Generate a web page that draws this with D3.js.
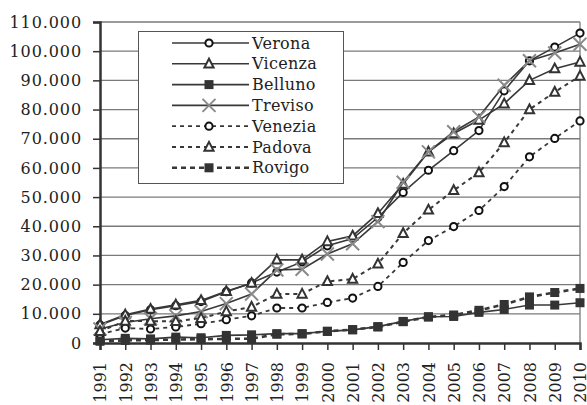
<!DOCTYPE html>
<html><head><meta charset="utf-8">
<script src="https://cdnjs.cloudflare.com/ajax/libs/d3/7.8.5/d3.min.js"></script>
<style>
html,body{margin:0;padding:0;background:#fff;}
svg{display:block;font-family:"DejaVu Serif",serif;}
</style></head>
<body><svg id="c" width="587" height="405"></svg>
<script>
const years = [1991,1992,1993,1994,1995,1996,1997,1998,1999,2000,2001,2002,2003,2004,2005,2006,2007,2008,2009,2010];
const seriesNames = ["Verona","Vicenza","Belluno","Treviso","Venezia","Padova","Rovigo"];
const verona  = [6200,9400,11400,12800,14200,17600,20600,24300,27800,33300,35800,43000,51600,59200,65900,72800,86400,96700,101400,106200];
const vicenza = [6300,9700,11600,13100,14600,17700,20500,28500,28500,34800,36700,44400,54500,65500,71800,76400,82000,90000,94000,96300];
const belluno = [1100,1600,1400,2000,1800,2600,2800,3200,3200,4000,4500,5600,7400,9000,9100,10500,11500,13000,13000,13800];
const treviso = [4800,7000,8300,9300,10800,13500,16800,25000,25300,30500,34000,41600,55100,65500,72400,77500,88300,96700,99400,102400];
const venezia = [3000,5100,4800,5500,6600,8000,9300,12000,12000,13900,15400,19400,27600,35100,39900,45400,53600,63800,70100,76100];
const padova  = [4000,7500,7500,7400,8500,10800,12300,16800,16800,21100,21900,27100,37600,45600,52300,58400,68700,80000,86000,91500];
const rovigo  = [600,900,1000,1200,1300,1400,1500,3000,3100,4000,4600,5500,7300,8900,9600,11200,13200,15800,17300,18700];
const yTicks = [0,10000,20000,30000,40000,50000,60000,70000,80000,90000,100000,110000];

const valuesByName = {Verona:verona,Vicenza:vicenza,Belluno:belluno,Treviso:treviso,Venezia:venezia,Padova:padova,Rovigo:rovigo};
const styles = {
  Verona:  {dash:null, marker:"circle", w:1.6},
  Vicenza: {dash:null, marker:"triangle", w:1.6},
  Belluno: {dash:null, marker:"square", w:1.6},
  Treviso: {dash:null, marker:"x", w:1.6},
  Venezia: {dash:"4,4", marker:"circle", w:1.8},
  Padova:  {dash:"4,4", marker:"triangle", w:2},
  Rovigo:  {dash:"5,4", marker:"square", w:2.6}
};
const lineColor = "#383838";

const svg = d3.select("#c");
const L=100,R=580,T=22,B=343;
const x = d3.scalePoint().domain(years).range([L,R]);
const y = d3.scaleLinear().domain([0,110000]).range([B,T]);
const loc = d3.formatLocale({decimal:",",thousands:".",grouping:[3],currency:["",""]});
const fmt = loc.format(",d");

// gridlines
svg.append("g").selectAll("line").data(yTicks.filter(d=>d>0)).join("line")
  .attr("x1",L).attr("x2",R).attr("y1",d=>y(d)).attr("y2",d=>y(d))
  .attr("stroke","#7a7a7a").attr("stroke-width",1.3);
// right border
svg.append("line").attr("x1",R).attr("x2",R).attr("y1",T).attr("y2",B).attr("stroke","#7a7a7a").attr("stroke-width",1.3);

// axes
const yAxis = d3.axisLeft(y).tickValues(yTicks).tickFormat(fmt).tickSize(7).tickPadding(11);
const gy = svg.append("g").attr("transform",`translate(${L},0)`).call(yAxis);
gy.select(".domain").attr("stroke","#333").attr("stroke-width",2.5);
gy.selectAll(".tick line").attr("stroke","#333").attr("stroke-width",1.5);
gy.selectAll("text").attr("font-size",16).attr("fill","#222").attr("font-family","DejaVu Serif")
  .attr("letter-spacing","0.9px");

const xAxis = d3.axisBottom(x).tickSize(7).tickPadding(5);
const gx = svg.append("g").attr("transform",`translate(0,${B})`).call(xAxis);
gx.select(".domain").attr("stroke","#333").attr("stroke-width",2.5);
gx.selectAll(".tick line").attr("stroke","#333").attr("stroke-width",1.5);
gx.selectAll("text").attr("font-size",16).attr("fill","#222").attr("font-family","DejaVu Serif")
  .attr("transform","rotate(-90)").attr("text-anchor","end").attr("dy","0.36em").attr("x",-19).attr("y",0);

function drawMarker(g, type, cx, cy){
  if(type==="circle"){
    g.append("circle").attr("cx",cx).attr("cy",cy).attr("r",3.6).attr("fill","#fff").attr("stroke","#111").attr("stroke-width",2);
  } else if(type==="triangle"){
    const s=4.6;
    g.append("path").attr("d",`M${cx},${cy-s-0.5}L${cx+s},${cy+s*0.8}L${cx-s},${cy+s*0.8}Z`).attr("fill","#fff").attr("stroke","#333").attr("stroke-width",2);
  } else if(type==="square"){
    g.append("rect").attr("x",cx-4.5).attr("y",cy-4.5).attr("width",9).attr("height",9).attr("fill","#333");
  } else if(type==="x"){
    const s=6.5;
    g.append("path").attr("d",`M${cx-s},${cy-s}L${cx+s},${cy+s}M${cx-s},${cy+s}L${cx+s},${cy-s}`).attr("stroke","#8a8a8a").attr("stroke-width",2).attr("fill","none");
  }
}

const line = d3.line().x((d,i)=>x(years[i])).y(d=>y(d));
seriesNames.forEach(name=>{
  const st = styles[name];
  const g = svg.append("g");
  g.append("path").attr("d",line(valuesByName[name])).attr("fill","none")
    .attr("stroke",lineColor).attr("stroke-width",st.w).attr("stroke-dasharray",st.dash);
  valuesByName[name].forEach((v,i)=>drawMarker(g, st.marker, x(years[i]), y(v)));
});

// legend
const lg = svg.append("g");
lg.append("rect").attr("x",138.5).attr("y",31.5).attr("width",205).attr("height",152)
  .attr("fill","#fff").attr("stroke","#555").attr("stroke-width",1);
seriesNames.forEach((name,i)=>{
  const st = styles[name];
  const ry = 43 + i*20.8;
  lg.append("line").attr("x1",172).attr("x2",249).attr("y1",ry).attr("y2",ry)
    .attr("stroke",lineColor).attr("stroke-width",st.w).attr("stroke-dasharray",st.dash);
  drawMarker(lg, st.marker, 209, ry);
  lg.append("text").attr("x",252).attr("y",ry).attr("dy","0.35em").attr("font-size",16)
    .attr("fill","#222").attr("letter-spacing","0.3px").text(name);
});
</script></body></html>
